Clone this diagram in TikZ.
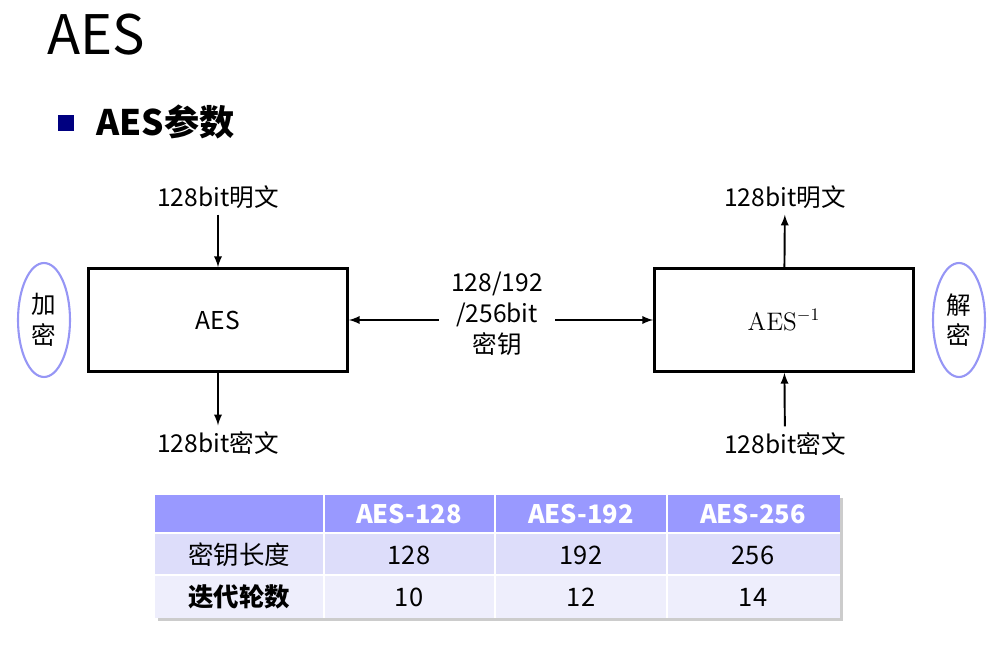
\documentclass[tikz,border=0pt]{standalone}
\usepackage[no-math]{fontspec}
\setmainfont{Noto Sans CJK SC}
\usetikzlibrary{shapes.geometric}
\definecolor{bulletblue}{RGB}{0,0,128}
\definecolor{ovalblue}{RGB}{150,150,245}
\definecolor{headblue}{RGB}{153,153,255}
\definecolor{rowone}{RGB}{221,221,250}
\definecolor{rowtwo}{RGB}{238,238,252}
\tikzset{
  block/.style={draw, line width=1.6pt, minimum width=5.18cm, minimum height=2.06cm, font=\fontsize{14}{16}\selectfont},
  oval/.style={draw=ovalblue, line width=1.2pt, ellipse, minimum width=1.04cm, minimum height=2.28cm, align=center, inner sep=0pt, font=\fontsize{14}{17.5}\selectfont},
  txt/.style={font=\fontsize{14}{17.5}\selectfont, align=center},
  headtxt/.style={text=white, font=\bfseries\fontsize{14.5}{16}\selectfont},
  celltxt/.style={font=\fontsize{14.5}{16}\selectfont},
  arr/.style={draw, line width=1.1pt, ->, >=latex},
}
\begin{document}
\begin{tikzpicture}[x=0.02cm, y=-0.02cm]
\useasboundingbox (0,0) rectangle (991,648);

% title
\node[anchor=west, inner sep=0pt] (title) at (47,35) {\fontsize{31}{31}\selectfont AES};
\node[fill=bulletblue, minimum size=0.32cm, inner sep=0pt] (bullet) at (66,123) {};
\node[anchor=west, inner sep=0pt] (sub) at (96,122) {\bfseries\fontsize{20}{20}\selectfont AES参数};

% encryption / decryption
\node[block] (enc) at (218,320) {AES};
\node[block] (dec) at (784,320) {$\mathrm{AES}^{-1}$};
\node[oval] (encoval) at (44,320) {加\\密};
\node[oval] (decoval) at (959,320) {解\\密};

\node[txt] (pin) at (218,197) {128bit明文};
\node[txt] (cout) at (218,443) {128bit密文};
\node[txt] (pout) at (785,197) {128bit明文};
\node[txt] (cin) at (785,444) {128bit密文};
\node[txt, inner xsep=7pt] (key) at (497,314) {128/192\\/256bit\\密钥};

\path[arr] (pin) -- (enc);
\path[arr] (enc) -- (cout);
\path[arr] (dec) -- (pout);
\path[arr] (cin) -- (dec);
\path[arr] (key.west |- enc.east) -- (enc.east);
\path[arr] (key.east |- dec.west) -- (dec.west);

% table
\fill[black!20] (158,498) rectangle (843,621);
\fill[headblue] (155,495) rectangle (840,533);
\fill[rowone] (155,533) rectangle (840,575);
\fill[rowtwo] (155,575) rectangle (840,618);
\foreach \x in {324,495,667}
  \draw[white, line width=1pt] (\x,495) -- (\x,618);
\foreach \y in {533,575}
  \draw[white, line width=1.5pt] (155,\y) -- (840,\y);

\foreach \name/\x [count=\i] in {AES-128/409, AES-192/581, AES-256/753}
  \node[headtxt] (head\i) at (\x,514) {\name};
\node[celltxt] (keylen) at (239,555) {密钥长度};
\node[celltxt, font=\bfseries\fontsize{14.5}{16}\selectfont] (rounds) at (239,597) {迭代轮数};
\foreach \len/\rnd/\x [count=\i] in {128/10/409, 192/12/581, 256/14/753} {
  \node[celltxt] (len\i) at (\x,555) {\len};
  \node[celltxt] (rnd\i) at (\x,597) {\rnd};
}
\end{tikzpicture}
\end{document}
